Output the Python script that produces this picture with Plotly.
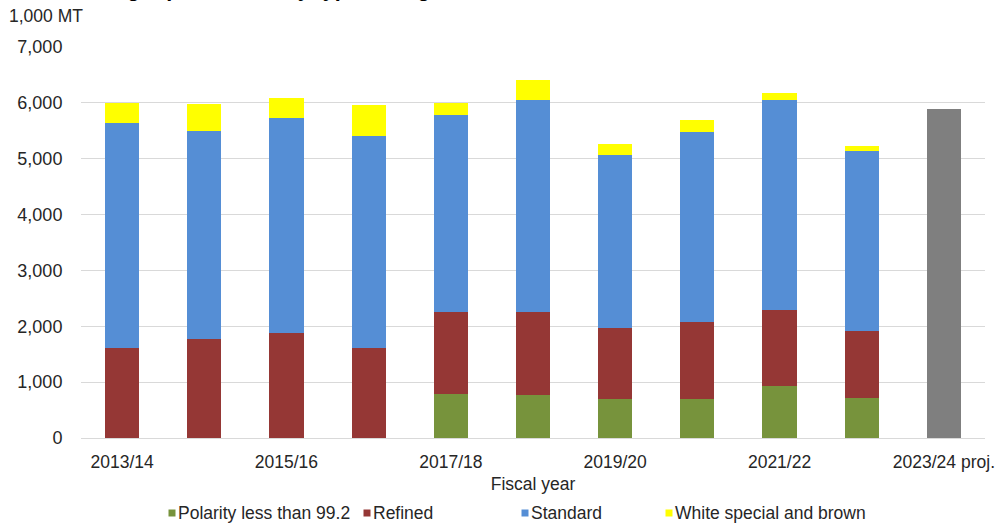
import plotly.graph_objects as go

# Fiscal years (category axis) and the labels shown on every other tick
years = ["2013/14", "2014/15", "2015/16", "2016/17", "2017/18", "2018/19",
         "2019/20", "2020/21", "2021/22", "2022/23", "2023/24 proj."]
tick_years = ["2013/14", "2015/16", "2017/18", "2019/20", "2021/22", "2023/24 proj."]

# Production by type of sugar, 1,000 MT
polarity = [None, None, None, None, 795, 775, 705, 705, 930, 710, None]
refined = [1620, 1775, 1880, 1620, 1465, 1485, 1260, 1365, 1360, 1210, None]
standard = [4015, 3725, 3845, 3795, 3525, 3785, 3100, 3415, 3755, 3225, None]
white_brown = [355, 485, 365, 545, 205, 365, 200, 210, 125, 85, None]
projection = [None] * 10 + [5895]

series_names = ["Polarity less than 99.2", "Refined", "Standard", "White special and brown"]
series_values = [polarity, refined, standard, white_brown]
series_colors = ["#77933C", "#953735", "#558ED5", "#FFFF00"]
projection_color = "#7F7F7F"

# Page geometry (pixels)
W, H = 996, 523
M_L, M_R, M_T, M_B = 81, 11, 47, 85
PW, PH = W - M_L - M_R, H - M_T - M_B

FONT = "Liberation Sans, Arial, sans-serif"
TXT = "#262626"
FS = 17.5

fig = go.Figure()
for name, vals, color in zip(series_names, series_values, series_colors):
    fig.add_trace(go.Bar(x=years, y=vals, name=name, marker_color=color,
                         marker_line_width=0, showlegend=False))
fig.add_trace(go.Bar(x=years, y=projection, name="Projection",
                     marker_color=projection_color, marker_line_width=0,
                     showlegend=False))

# Legend drawn as small squares with labels beneath the axis title
legend_square_px = [172, 367, 525, 669]
legend_y_px = 513
sq = 7
shapes = []
annotations = []
for name, color, cx in zip(series_names, series_colors, legend_square_px):
    x0 = (cx - sq / 2 - M_L) / PW
    x1 = (cx + sq / 2 - M_L) / PW
    y0 = (M_T + PH - (legend_y_px + sq / 2)) / PH
    y1 = (M_T + PH - (legend_y_px - sq / 2)) / PH
    shapes.append(dict(type="rect", xref="paper", yref="paper",
                       x0=x0, x1=x1, y0=y0, y1=y1,
                       fillcolor=color, line_width=0))
    annotations.append(dict(text=name, xref="paper", yref="paper",
                            x=(cx + sq / 2 - M_L) / PW,
                            y=(M_T + PH - legend_y_px) / PH,
                            xanchor="left", yanchor="middle", showarrow=False,
                            font=dict(family=FONT, size=FS, color=TXT)))

# Unit label above the value axis
annotations.append(dict(text="1,000 MT", xref="paper", yref="paper",
                        x=(7 - M_L) / PW, y=(M_T + PH - 16) / PH,
                        xanchor="left", yanchor="middle", showarrow=False,
                        font=dict(family=FONT, size=FS, color=TXT)))

# Chart title, sitting at the very top edge of the page
annotations.append(dict(text="<b>Mexican sugar production by type of sugar, 2013/14\u20132023/24</b>",
                        xref="paper", yref="paper",
                        x=(9 - M_L) / PW, y=1, yshift=44,
                        xanchor="left", yanchor="bottom", showarrow=False,
                        font=dict(family=FONT, size=21.5, color="#000000")))

fig.update_layout(
    width=W, height=H,
    margin=dict(l=M_L, r=M_R, t=M_T, b=M_B, autoexpand=False),
    barmode="stack", bargap=0.585,
    plot_bgcolor="white", paper_bgcolor="white",
    font=dict(family=FONT, size=FS, color=TXT),
    shapes=shapes, annotations=annotations,
    xaxis=dict(type="category", categoryorder="array", categoryarray=years,
               tickmode="array", tickvals=tick_years, ticktext=tick_years,
               ticks="outside", ticklen=8, tickcolor="rgba(0,0,0,0)",
               showline=False, showgrid=False,
               tickfont=dict(family=FONT, size=FS, color=TXT),
               title=dict(text="Fiscal year", standoff=6,
                          font=dict(family=FONT, size=FS, color=TXT))),
    yaxis=dict(range=[0, 7000], tickmode="array",
               tickvals=[0, 1000, 2000, 3000, 4000, 5000, 6000, 7000],
               tickformat=",d", showgrid=True, gridcolor="#D9D9D9", gridwidth=1,
               zeroline=True, zerolinecolor="#D9D9D9", zerolinewidth=1,
               showline=False, ticks="outside", ticklen=14,
               tickcolor="rgba(0,0,0,0)",
               tickfont=dict(family=FONT, size=18, color=TXT)),
)

fig.write_html("out.html")
